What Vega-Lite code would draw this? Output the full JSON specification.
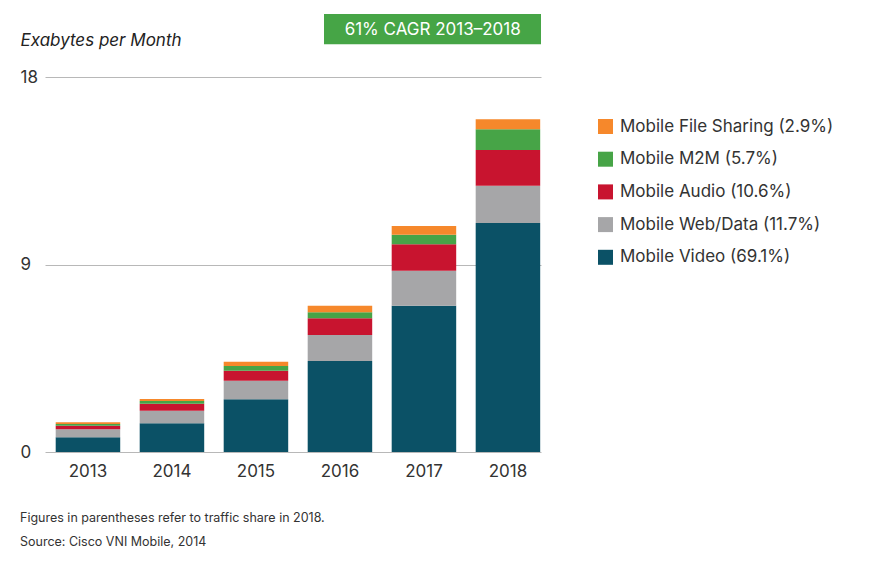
{
  "$schema": "https://vega.github.io/schema/vega-lite/v6.json",
  "width": 496,
  "height": 375,
  "autosize": {"type": "none"},
  "padding": {"left": 45, "top": 77, "right": 354, "bottom": 116},
  "background": "white",
  "config": {
    "view": {"stroke": null},
    "font": "Inter",
    "legend": {"padding": 0}
  },
  "title": {
    "text": ["Figures in parentheses refer to traffic share in 2018.", "Source: Cisco VNI Mobile, 2014"],
    "orient": "bottom",
    "anchor": "start",
    "frame": "group",
    "dx": -25,
    "offset": 33,
    "fontSize": 12.5,
    "fontWeight": "normal",
    "font": "Inter",
    "color": "#333333",
    "lineHeight": 24,
    "baseline": "top"
  },
  "datasets": {
    "traffic": [
      {"year": "2013", "category": "Mobile Video (69.1%)", "order": 1, "value": 0.71},
      {"year": "2013", "category": "Mobile Web/Data (11.7%)", "order": 2, "value": 0.38},
      {"year": "2013", "category": "Mobile Audio (10.6%)", "order": 3, "value": 0.17},
      {"year": "2013", "category": "Mobile M2M (5.7%)", "order": 4, "value": 0.08},
      {"year": "2013", "category": "Mobile File Sharing (2.9%)", "order": 5, "value": 0.09},
      {"year": "2014", "category": "Mobile Video (69.1%)", "order": 1, "value": 1.38},
      {"year": "2014", "category": "Mobile Web/Data (11.7%)", "order": 2, "value": 0.60},
      {"year": "2014", "category": "Mobile Audio (10.6%)", "order": 3, "value": 0.34},
      {"year": "2014", "category": "Mobile M2M (5.7%)", "order": 4, "value": 0.13},
      {"year": "2014", "category": "Mobile File Sharing (2.9%)", "order": 5, "value": 0.09},
      {"year": "2015", "category": "Mobile Video (69.1%)", "order": 1, "value": 2.53},
      {"year": "2015", "category": "Mobile Web/Data (11.7%)", "order": 2, "value": 0.89},
      {"year": "2015", "category": "Mobile Audio (10.6%)", "order": 3, "value": 0.48},
      {"year": "2015", "category": "Mobile M2M (5.7%)", "order": 4, "value": 0.23},
      {"year": "2015", "category": "Mobile File Sharing (2.9%)", "order": 5, "value": 0.20},
      {"year": "2016", "category": "Mobile Video (69.1%)", "order": 1, "value": 4.37},
      {"year": "2016", "category": "Mobile Web/Data (11.7%)", "order": 2, "value": 1.25},
      {"year": "2016", "category": "Mobile Audio (10.6%)", "order": 3, "value": 0.80},
      {"year": "2016", "category": "Mobile M2M (5.7%)", "order": 4, "value": 0.29},
      {"year": "2016", "category": "Mobile File Sharing (2.9%)", "order": 5, "value": 0.31},
      {"year": "2017", "category": "Mobile Video (69.1%)", "order": 1, "value": 7.02},
      {"year": "2017", "category": "Mobile Web/Data (11.7%)", "order": 2, "value": 1.68},
      {"year": "2017", "category": "Mobile Audio (10.6%)", "order": 3, "value": 1.27},
      {"year": "2017", "category": "Mobile M2M (5.7%)", "order": 4, "value": 0.46},
      {"year": "2017", "category": "Mobile File Sharing (2.9%)", "order": 5, "value": 0.42},
      {"year": "2018", "category": "Mobile Video (69.1%)", "order": 1, "value": 10.99},
      {"year": "2018", "category": "Mobile Web/Data (11.7%)", "order": 2, "value": 1.79},
      {"year": "2018", "category": "Mobile Audio (10.6%)", "order": 3, "value": 1.72},
      {"year": "2018", "category": "Mobile M2M (5.7%)", "order": 4, "value": 0.99},
      {"year": "2018", "category": "Mobile File Sharing (2.9%)", "order": 5, "value": 0.48}
    ],
    "badge": [
      {"label": "61% CAGR 2013–2018", "x0": 2015.875, "x1": 2018.5, "xc": 2017.19, "y0": 19.57, "y1": 21.02, "yc": 20.28}
    ]
  },
  "layer": [
    {
      "data": {"name": "traffic"},
      "mark": {"type": "bar"},
      "encoding": {
        "x": {
          "field": "year",
          "type": "ordinal",
          "scale": {"paddingInner": 0.232, "paddingOuter": 0.0685, "align": 0.93},
          "axis": {
            "title": null,
            "domain": false,
            "ticks": false,
            "labelAngle": 0,
            "labelFontSize": 17,
            "labelColor": "#333333",
            "labelPadding": 11,
            "grid": false
          }
        },
        "y": {
          "field": "value",
          "type": "quantitative",
          "stack": "zero",
          "scale": {"domain": [0, 18], "nice": false},
          "axis": {
            "values": [0, 9, 18],
            "title": "Exabytes per Month",
            "titleAngle": 0,
            "titleAlign": "left",
            "titleBaseline": "alphabetic",
            "titleX": -25,
            "titleY": -32,
            "titleFontSize": 17,
            "titleFontStyle": "italic",
            "titleFontWeight": "normal",
            "titleColor": "#222222",
            "domain": false,
            "ticks": false,
            "tickSize": 0,
            "labelAlign": "left",
            "labelPadding": 25,
            "labelFontSize": 17,
            "labelColor": "#333333",
            "grid": true,
            "gridColor": "#b8b8b8",
            "gridWidth": 1
          }
        },
        "color": {
          "field": "category",
          "type": "nominal",
          "scale": {
            "domain": ["Mobile File Sharing (2.9%)", "Mobile M2M (5.7%)", "Mobile Audio (10.6%)", "Mobile Web/Data (11.7%)", "Mobile Video (69.1%)"],
            "range": ["#f6882b", "#47a447", "#c8142f", "#a6a6a8", "#0b5166"]
          },
          "legend": {
            "title": null,
            "orient": "none",
            "legendX": 552,
            "legendY": 41,
            "symbolType": "square",
            "symbolSize": 225,
            "symbolStrokeWidth": 0,
            "labelFontSize": 17,
            "labelColor": "#333333",
            "labelOffset": 6,
            "rowPadding": 14.7,
            "labelLimit": 400
          }
        },
        "order": {"field": "order", "type": "quantitative", "sort": "ascending"}
      }
    },
    {
      "data": {"name": "badge"},
      "mark": {"type": "rect", "color": "#46a546"},
      "encoding": {
        "x": {"field": "x0", "type": "quantitative", "scale": {"domain": [2012.5, 2018.5], "nice": false, "zero": false}, "axis": null},
        "x2": {"field": "x1"},
        "y": {"field": "y0", "type": "quantitative"},
        "y2": {"field": "y1"}
      }
    },
    {
      "data": {"name": "badge"},
      "mark": {"type": "text", "color": "white", "fontSize": 17, "align": "center", "baseline": "middle", "font": "Inter"},
      "encoding": {
        "x": {"field": "xc", "type": "quantitative", "scale": {"domain": [2012.5, 2018.5], "nice": false, "zero": false}, "axis": null},
        "y": {"field": "yc", "type": "quantitative"},
        "text": {"field": "label"}
      }
    }
  ],
  "resolve": {"scale": {"x": "independent"}}
}
